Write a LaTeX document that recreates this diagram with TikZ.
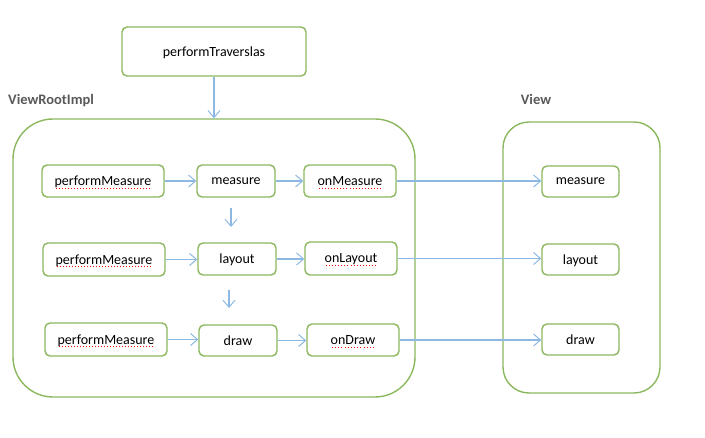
\documentclass[tikz,border=0pt]{standalone}
\usepackage{fontspec}
\setmainfont{Carlito}
\usetikzlibrary{arrows.meta}
\definecolor{grn}{HTML}{8BB85E}
\definecolor{blu}{HTML}{8DB8E3}
\definecolor{lbl}{HTML}{595959}
\newlength\ulw
\newcommand\redul[1]{\settowidth\ulw{#1}\rlap{\raisebox{-3pt}{\color{red}\hbox to\ulw{\xleaders\hbox to 3pt{\hss\rule{0.9pt}{0.9pt}\hss}\hfil}}}#1}
\tikzset{
  box/.style={draw=grn, line width=1.4pt, rounded corners=5pt, rectangle, fill=white,
    font=\fontsize{14}{16}\selectfont, inner sep=0pt, text depth=0pt},
  big/.style={draw=grn, line width=1.4pt, rectangle, inner sep=0pt},
  arr/.style={draw=blu, line width=1.3pt, -{Straight Barb[length=7pt,width=12pt,line width=1pt]}},
  lab/.style={font=\fontsize{14.5}{16}\selectfont\bfseries, text=lbl, inner sep=0pt}
}
\begin{document}
\begin{tikzpicture}[x=1pt,y=-1pt]
\useasboundingbox (0,0) rectangle (705,438);
% containers
\node[big, rounded corners=40pt, minimum width=402pt, minimum height=278pt] (vri) at (214,258) {};
\node[big, rounded corners=26pt, minimum width=157pt, minimum height=271pt] (vbox) at (581.5,257.5) {};
\node[lab, anchor=west] (vrilab) at (8,101) {ViewRootImpl};
\node[lab] (vlab) at (536,99) {View};
% top
\node[box, minimum width=184pt, minimum height=49pt] (pt) at (214,51.5) {performTraverslas};
% row 1
\node[box, minimum width=122pt, minimum height=32pt] (pm1) at (103,181) {\redul{performMeasure}};
\node[box, minimum width=78pt, minimum height=32pt] (m1) at (236,181) {measure};
\node[box, minimum width=92pt, minimum height=32pt] (om1) at (350,181) {\redul{onMeasure}};
% row 2
\node[box, minimum width=122pt, minimum height=33pt] (pm2) at (104,259.5) {\redul{performMeasure}};
\node[box, minimum width=78pt, minimum height=32pt] (l2) at (237,259) {layout};
\node[box, minimum width=92pt, minimum height=33pt] (ol2) at (351,258.5) {\redul{onLayout}};
% row 3
\node[box, minimum width=122pt, minimum height=33pt] (pm3) at (106,339.5) {\redul{performMeasure}};
\node[box, minimum width=78pt, minimum height=31pt] (d3) at (238,340.5) {draw};
\node[box, minimum width=92pt, minimum height=32pt] (od3) at (353,340) {\redul{onDraw}};
% View
\node[box, minimum width=77pt, minimum height=31pt] (vm) at (580.5,181.5) {measure};
\node[box, minimum width=77pt, minimum height=31pt] (vl) at (580.5,259.5) {layout};
\node[box, minimum width=77pt, minimum height=31pt] (vd) at (580.5,339.5) {draw};
% free arrow ends
\coordinate (a1s) at (231,208);
\coordinate (a1e) at (231,227);
\coordinate (a2s) at (229,290);
\coordinate (a2e) at (229,308);
% arrows
\draw[arr] (pt.south) -- (vri.north);
\draw[arr] (pm1.east) -- (pm1.east -| m1.west);
\draw[arr] (m1.east) -- (m1.east -| om1.west);
\draw[arr] (pm2.east) -- (pm2.east -| l2.west);
\draw[arr] (l2.east) -- (l2.east -| ol2.west);
\draw[arr] (pm3.east) -- (pm3.east -| d3.west);
\draw[arr] (d3.east) -- (d3.east -| od3.west);
\draw[arr] (a1s) -- (a1e);
\draw[arr] (a2s) -- (a2e);
\draw[arr] (om1.east) -- (om1.east -| vm.west);
\draw[arr] (ol2.east) -- (ol2.east -| vl.west);
\draw[arr] (od3.east) -- (od3.east -| vd.west);
\end{tikzpicture}
\end{document}
